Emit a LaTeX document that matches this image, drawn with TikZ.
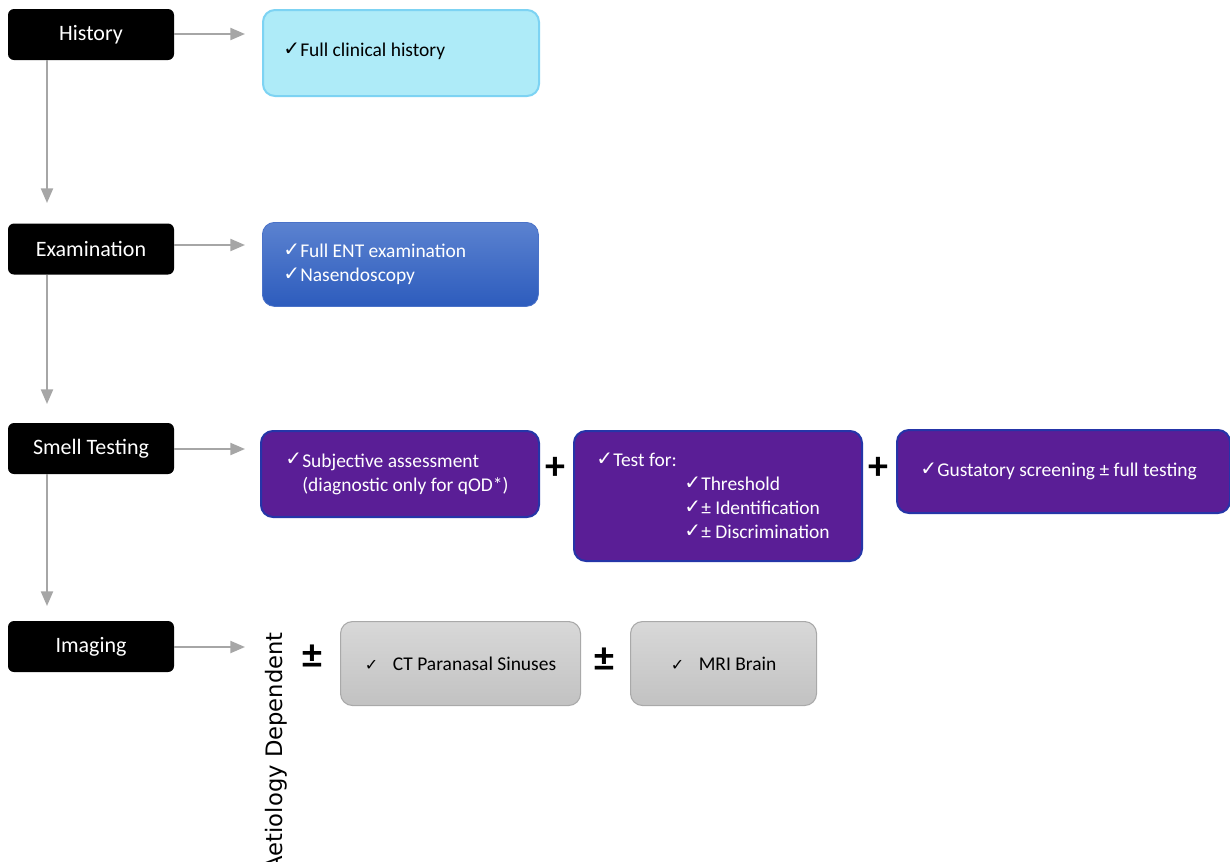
\documentclass[tikz,border=0pt]{standalone}
\usepackage{fontspec}
\setmainfont{Carlito}
\newfontfamily\dejavu{DejaVu Sans}
\usetikzlibrary{arrows.meta}
\definecolor{arrowgray}{HTML}{A6A6A6}
\definecolor{cyanfill}{HTML}{AEEBF8}
\definecolor{cyandraw}{HTML}{7DD3F3}
\definecolor{bluetop}{HTML}{5B82D0}
\definecolor{bluebot}{HTML}{2D5CBD}
\definecolor{bluedraw}{HTML}{4A72C8}
\definecolor{purplefill}{HTML}{5A1E96}
\definecolor{purpledraw}{HTML}{2535A8}
\definecolor{graytop}{HTML}{D8D8D8}
\definecolor{graybot}{HTML}{C2C2C2}
\definecolor{graydraw}{HTML}{A9A9A9}
\newcommand{\ck}{\makebox[12.75pt][l]{\raisebox{1pt}{\dejavu\fontsize{15}{15}\selectfont ✓}}}
\newcommand{\cki}{{\dejavu\fontsize{12}{12}\selectfont ✓}}
\begin{document}
\begin{tikzpicture}[x=0.75pt,y=-0.75pt,
  lab/.style={fill=black, rounded corners=4.5pt, text=white, minimum width=124.5pt,
    minimum height=38.25pt, inner sep=0pt, font=\fontsize{16.5}{19}\selectfont},
  conn/.style={draw=arrowgray, line width=1.6pt, -{Triangle[length=11pt,width=9pt]}},
  rbox/.style={anchor=north west, rounded corners=9pt, inner sep=0pt, line width=1.5pt},
  btxt/.style={anchor=west, align=left, inner sep=0pt, font=\fontsize{14.6}{18}\selectfont},
  cyanbox/.style={rbox, fill=cyanfill, draw=cyandraw},
  bluebox/.style={rbox, top color=bluetop, bottom color=bluebot, draw=bluedraw, line width=0.6pt},
  purplebox/.style={rbox, fill=purplefill, draw=purpledraw},
  graybox/.style={rbox, top color=graytop, bottom color=graybot, draw=graydraw, line width=0.8pt,
    font=\fontsize{14.6}{18}\selectfont},
  opsign/.style={inner sep=0pt, font=\bfseries\fontsize{30}{30}\selectfont},
]
\useasboundingbox (0,0) rectangle (1230,861);
\fill[white] (0,0) rectangle (1230,861);

% left labels
\node[lab] (hist)  at (91,34.5)  {History};
\node[lab] (exam)  at (91,249)   {Examination};
\node[lab] (smell) at (91,448.5) {Smell Testing};
\node[lab] (imag)  at (91,646.5) {Imaging};

% free ends of connectors
\coordinate (v1) at (47,203);
\coordinate (v2) at (47,404);
\coordinate (v3) at (47,606);
\coordinate (h1) at (245,34);
\coordinate (h2) at (245,245);
\coordinate (h3) at (245,449);
\coordinate (h4) at (245,647);

\draw[conn] (hist.south -| v1) -- (v1);
\draw[conn] (exam.south -| v2) -- (v2);
\draw[conn] (smell.south -| v3) -- (v3);
\draw[conn] (hist.east |- h1) -- (h1);
\draw[conn] (exam.east |- h2) -- (h2);
\draw[conn] (smell.east |- h3) -- (h3);
\draw[conn] (imag.east |- h4) -- (h4);

% History
\node[cyanbox, minimum width=207pt, minimum height=64.5pt] (hbox) at (262,9) {};
\node[btxt] (htxt) at ([xshift=15.75pt,yshift=1.5pt]hbox.west) {\ck Full clinical history};

% Examination
\node[bluebox, minimum width=207pt, minimum height=63pt] (ebox) at (262,222) {};
\node[btxt, text=white] (etxt) at ([xshift=15.75pt]ebox.west) {\ck Full ENT examination\\\ck Nasendoscopy};

% Smell testing
\node[purplebox, minimum width=208.5pt, minimum height=64.5pt] (s1) at (260,430) {};
\node[btxt, text=white] (s1t) at ([xshift=18.75pt]s1.west)
  {\ck Subjective assessment\\\hspace{12.75pt}(diagnostic only for qOD*)};
\node[purplebox, minimum width=216pt, minimum height=97.5pt] (s2) at (573,430) {};
\node[btxt, text=white] (s2t) at ([xshift=17.25pt]s2.west)
  {\ck Test for:\\\hspace{66pt}\ck Threshold\\\hspace{66pt}\ck ± Identification\\\hspace{66pt}\ck ± Discrimination};
\node[purplebox, minimum width=249.75pt, minimum height=62.25pt] (s3) at (896,429) {};
\node[btxt, text=white] (s3t) at ([xshift=18pt]s3.west) {\ck Gustatory screening ± full testing};

\node[opsign] (p1) at (555.5,468) {+};
\node[opsign] (p2) at (878,468) {+};

% Imaging
\node[inner sep=0pt, rotate=90, anchor=base east, font=\dejavu\fontsize{17}{17}\selectfont]
  (aet) at (282,632) {Aetiology Dependent};
\node[opsign] (pm1) at (312,657) {±};
\node[graybox, minimum width=180pt, minimum height=63pt] (g1) at (340,621)
  {\cki\hspace{11pt}CT Paranasal Sinuses};
\node[opsign] (pm2) at (604.5,660) {±};
\node[graybox, minimum width=139.5pt, minimum height=63pt] (g2) at (630,621)
  {\cki\hspace{11pt}MRI Brain};
\end{tikzpicture}
\end{document}
